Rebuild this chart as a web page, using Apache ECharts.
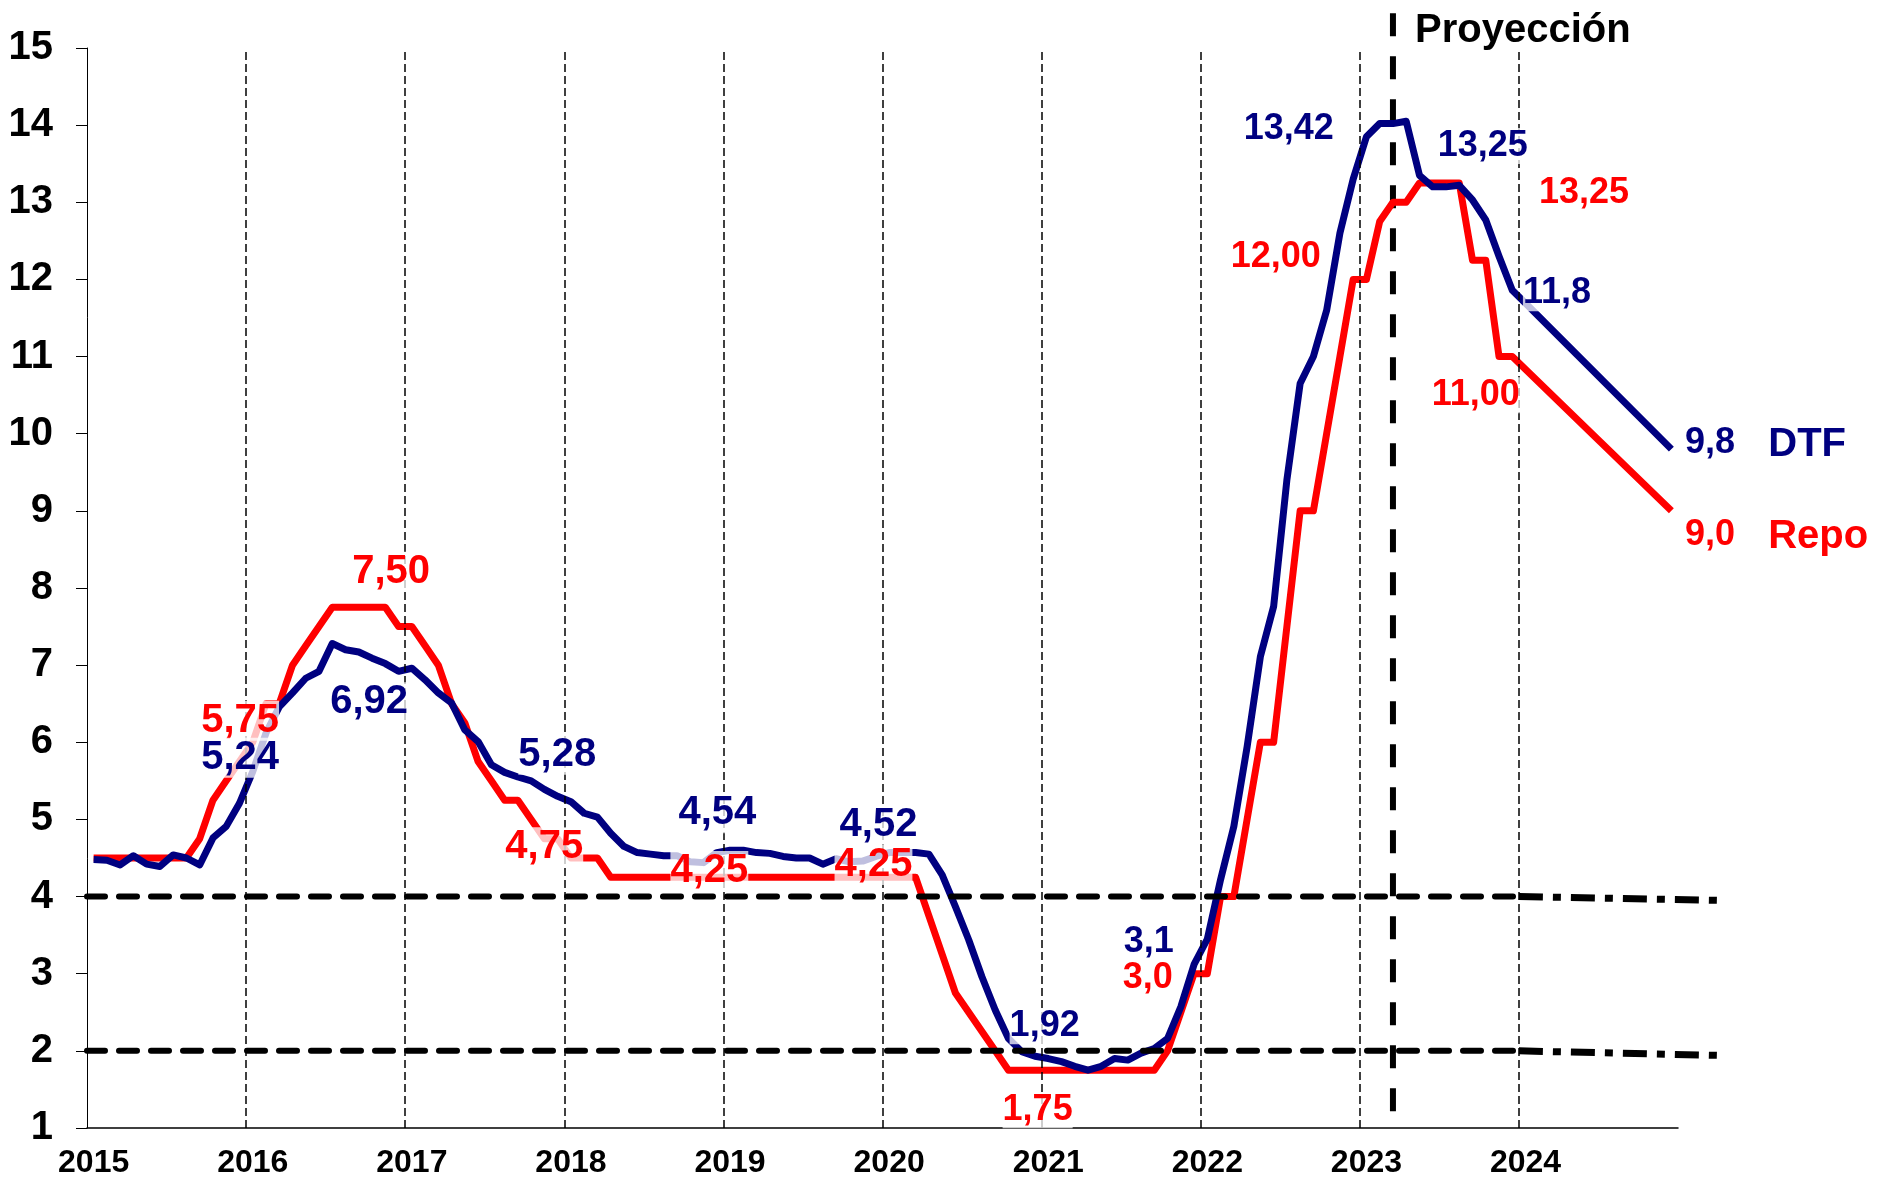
<!DOCTYPE html>
<html>
<head>
<meta charset="utf-8">
<title>DTF y Repo</title>
<script src="https://cdn.jsdelivr.net/npm/echarts@6/dist/echarts.min.js"></script>
<style>
  html, body { margin: 0; padding: 0; background: #fff; }
  #chart { width: 1882px; height: 1189px; }
</style>
</head>
<body>
<div id="chart"></div>
<script>
// monthly data, Jan 2015 - Dec 2024 (projection starts Mar 2023)
var years = ['2015', '2016', '2017', '2018', '2019', '2020', '2021', '2022', '2023', '2024']

var dtf = [
  4.48, 4.47, 4.41, 4.53, 4.42, 4.39, 4.54, 4.50, 4.41, 4.76, 4.91, 5.21,
  5.62, 6.12, 6.46, 6.64, 6.83, 6.92, 7.28, 7.20, 7.17, 7.09, 7.02, 6.92,
  6.96, 6.81, 6.64, 6.51, 6.16, 6.01, 5.71, 5.61, 5.55, 5.50, 5.39, 5.30,
  5.23, 5.08, 5.03, 4.82, 4.65, 4.57, 4.55, 4.53, 4.53, 4.45, 4.44, 4.57,
  4.60, 4.60, 4.57, 4.56, 4.52, 4.50, 4.50, 4.42, 4.49, 4.45, 4.46, 4.52,
  4.57, 4.57, 4.57, 4.55, 4.28, 3.87, 3.44, 2.96, 2.53, 2.16, 1.99, 1.93,
  1.90, 1.86, 1.80, 1.75, 1.80, 1.90, 1.88, 1.97, 2.03, 2.16, 2.57, 3.12,
  3.45, 4.22, 4.91, 5.94, 7.11, 7.76, 9.40, 10.65, 11.00, 11.60, 12.60, 13.30,
  13.85, 14.02, 14.02, 14.05, 13.35, 13.20, 13.20, 13.22, 13.03, 12.77, 12.30, 11.86,
  11.69, null, null, null, null, null, null, null, null, null, null, 9.8
]

var repo = [
  4.5, 4.5, 4.5, 4.5, 4.5, 4.5, 4.5, 4.5, 4.75, 5.25, 5.5, 5.75,
  6.0, 6.5, 6.5, 7.0, 7.25, 7.5, 7.75, 7.75, 7.75, 7.75, 7.75, 7.5,
  7.5, 7.25, 7.0, 6.5, 6.25, 5.75, 5.5, 5.25, 5.25, 5.0, 4.75, 4.75,
  4.5, 4.5, 4.5, 4.25, 4.25, 4.25, 4.25, 4.25, 4.25, 4.25, 4.25, 4.25,
  4.25, 4.25, 4.25, 4.25, 4.25, 4.25, 4.25, 4.25, 4.25, 4.25, 4.25, 4.25,
  4.25, 4.25, 4.25, 3.75, 3.25, 2.75, 2.5, 2.25, 2.0, 1.75, 1.75, 1.75,
  1.75, 1.75, 1.75, 1.75, 1.75, 1.75, 1.75, 1.75, 1.75, 2.0, 2.5, 3.0,
  3.0, 4.0, 4.0, 5.0, 6.0, 6.0, 7.5, 9.0, 9.0, 10.0, 11.0, 12.0,
  12.0, 12.75, 13.0, 13.0, 13.25, 13.25, 13.25, 13.25, 12.25, 12.25, 11.0, 11.0,
  null, null, null, null, null, null, null, null, null, null, null, 9.0
]

// inflation target range: breaks at Jan 2024, projected end beyond the axis
var targetMonths = [0, 108, 123.4]
var targetUpper = [4, 4, 3.95]
var targetLower = [2, 2, 1.94]

// start of the projection (month index, centre of Mar 2023)
var projectionMonth = 98.5
var projectionSpan = [15.45, 1.18]

// year boundaries, in months from Jan 2015
var yearBoundaries = [12, 24, 36, 48, 60, 72, 84, 96, 108]

var months = []
years.forEach(function (y) {
  for (var m = 1; m <= 12; m++) months.push(y + '-' + (m < 10 ? '0' + m : m))
})

// text annotations: text, month position, value, colour, font size
var navy = '#000080'
var red = '#ff0000'
var annotations = [
  ['7,50', 22.94, 8.21, red, 40],
  ['5,75', 11.55, 6.28, red, 40],
  ['5,24', 11.55, 5.80, navy, 40],
  ['6,92', 21.28, 6.52, navy, 40],
  ['5,28', 35.47, 5.84, navy, 40],
  ['4,75', 34.49, 4.64, red, 40],
  ['4,54', 47.55, 5.08, navy, 40],
  ['4,25', 46.94, 4.33, red, 40],
  ['4,52', 59.70, 4.93, navy, 40],
  ['4,25', 59.32, 4.41, red, 40],
  ['1,92', 72.23, 2.32, navy, 36],
  ['1,75', 71.70, 1.23, red, 36],
  ['3,1', 80.08, 3.41, navy, 36],
  ['3,0', 80.0, 2.94, red, 36],
  ['13,42', 90.64, 13.95, navy, 36],
  ['12,00', 89.66, 12.29, red, 36],
  ['13,25', 105.28, 13.73, navy, 36],
  ['13,25', 112.91, 13.12, red, 36],
  ['11,8', 110.87, 11.82, navy, 36],
  ['11,00', 104.75, 10.50, red, 36],
  ['9,8', 122.42, 9.88, navy, 36],
  ['DTF', 129.74, 9.85, navy, 40],
  ['9,0', 122.42, 8.69, red, 36],
  ['Repo', 130.57, 8.66, red, 40],
  ['Proyección', 108.3, 15.22, '#000', 40]
]

var font = 'Liberation Sans, Arial, sans-serif'

// layout: main plot and an overlay plot with the same month scale that runs past the axis end
var plotLeft = 87, plotRight = 204, plotTop = 48, plotBottom = 61
var monthPx = (1882 - plotLeft - plotRight) / months.length
var overlayMonths = 135

function pairs(xs, ys, from, to) {
  var out = []
  for (var i = from; i <= to; i++) out.push([xs[i], ys[i]])
  return out
}

function overlayLine(name, data, width, dash, cap, z) {
  return {
    name: name,
    type: 'line',
    xAxisIndex: 1,
    yAxisIndex: 1,
    data: data,
    showSymbol: false,
    clip: false,
    silent: true,
    z: z,
    lineStyle: { color: '#000', width: width, type: dash, cap: cap }
  }
}

var chart = echarts.init(document.getElementById('chart'))

var projection = overlayLine('Proyección',
  [[projectionMonth, projectionSpan[0]], [projectionMonth, projectionSpan[1]]], 6, [23, 20], 'butt', 2)
projection.markLine = {
  silent: true,
  symbol: ['none', 'none'],
  label: { show: false },
  lineStyle: { color: '#000', width: 1.5, type: [8, 4] },
  data: yearBoundaries.map(function (m) { return { xAxis: m } })
}

chart.setOption({
  animation: false,
  backgroundColor: '#fff',
  grid: [
    { left: plotLeft, right: plotRight, top: plotTop, bottom: plotBottom },
    { left: plotLeft, width: overlayMonths * monthPx, top: plotTop, bottom: plotBottom }
  ],
  xAxis: [{
    type: 'category',
    data: months,
    boundaryGap: true,
    axisLine: { lineStyle: { color: '#000', width: 1.5 } },
    axisTick: { show: false },
    splitLine: { show: false },
    axisLabel: {
      interval: function (index) { return index % 12 === 0 },
      formatter: function (v) { return v.slice(0, 4) },
      color: '#000',
      fontSize: 32,
      fontWeight: 'bold',
      fontFamily: font,
      margin: 19
    }
  }, {
    gridIndex: 1,
    type: 'value',
    min: 0,
    max: overlayMonths,
    show: false
  }],
  yAxis: [{
    type: 'value',
    min: 1,
    max: 15,
    interval: 1,
    axisLine: { show: true, lineStyle: { color: '#000', width: 1 } },
    axisTick: { show: true, length: 11, lineStyle: { color: '#000', width: 1 } },
    splitLine: { show: false },
    axisLabel: {
      color: '#000',
      fontSize: 40,
      fontWeight: 'bold',
      fontFamily: font,
      margin: 34
    }
  }, {
    gridIndex: 1,
    type: 'value',
    min: 1,
    max: 15,
    show: false
  }],
  series: [
    projection,
    {
      name: 'Repo',
      type: 'line',
      data: repo,
      connectNulls: true,
      showSymbol: false,
      z: 3,
      lineStyle: { color: red, width: 7, join: 'round' }
    }, {
      name: 'DTF',
      type: 'line',
      data: dtf,
      connectNulls: true,
      showSymbol: false,
      z: 4,
      lineStyle: { color: navy, width: 7, join: 'round' }
    },
    overlayLine('Meta sup', pairs(targetMonths, targetUpper, 0, 1), 6, [18, 14], 'round', 6),
    overlayLine('Meta inf', pairs(targetMonths, targetLower, 0, 1), 6, [18, 14], 'round', 6),
    overlayLine('Meta sup proy', pairs(targetMonths, targetUpper, 1, 2), 7, [24, 10, 8, 10], 'butt', 6),
    overlayLine('Meta inf proy', pairs(targetMonths, targetLower, 1, 2), 7, [24, 10, 8, 10], 'butt', 6),
    {
      name: 'labels',
      type: 'scatter',
      xAxisIndex: 1,
      yAxisIndex: 1,
      symbolSize: 0,
      clip: false,
      z: 10,
      silent: true,
      itemStyle: { opacity: 1 },
      data: annotations.map(function (a) {
        return {
          value: [a[1], a[2]],
          label: {
            show: true,
            position: 'inside',
            formatter: a[0],
            color: a[3],
            fontSize: a[4],
            fontWeight: 'bold',
            fontFamily: font,
            backgroundColor: a[0] === 'Proyección' ? 'transparent' : 'rgba(255,255,255,0.75)'
          }
        }
      })
    }
  ]
})
</script>
</body>
</html>
